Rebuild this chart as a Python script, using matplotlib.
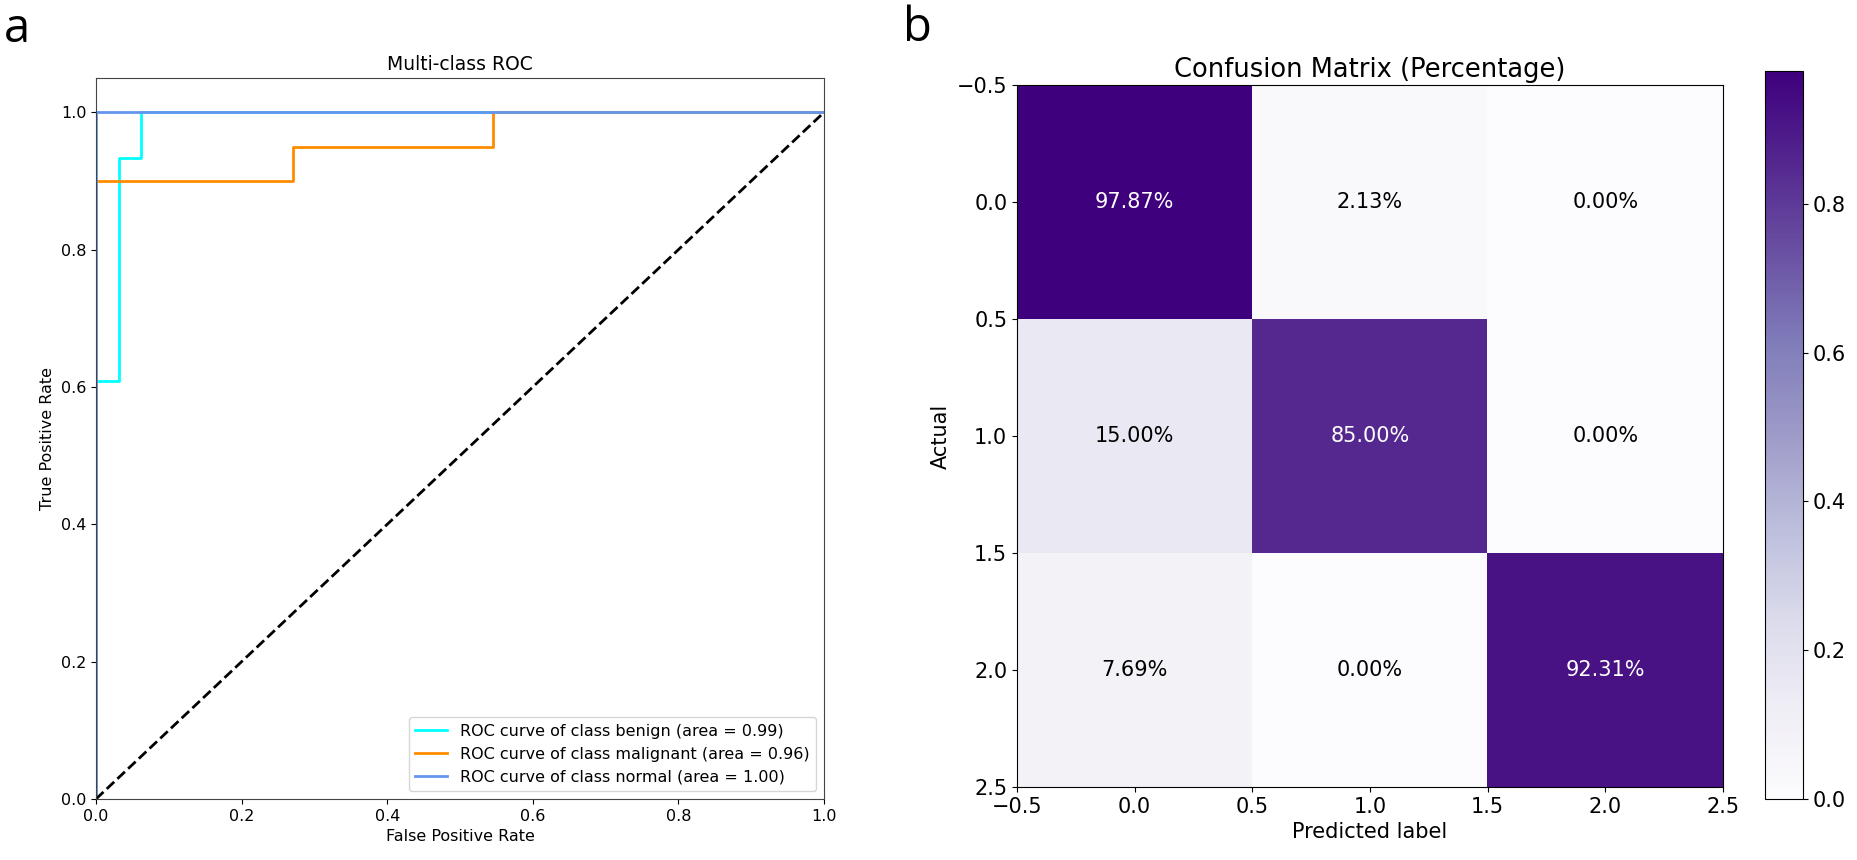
import numpy as np
import matplotlib
matplotlib.use('Agg')
import matplotlib.pyplot as plt

# ROC curve points
classes = ['benign', 'malignant', 'normal']
roc_auc = [0.99, 0.96, 1.00]
roc_colors = ['aqua', 'darkorange', 'cornflowerblue']
fpr_benign = [0.0, 0.0, 0.031, 0.031, 0.062, 0.062, 1.0]
tpr_benign = [0.0, 0.609, 0.609, 0.933, 0.933, 1.0, 1.0]
fpr_malignant = [0.0, 0.0, 0.27, 0.27, 0.545, 0.545, 1.0]
tpr_malignant = [0.0, 0.90, 0.90, 0.95, 0.95, 1.0, 1.0]
fpr_normal = [0.0, 0.0, 1.0]
tpr_normal = [0.0, 1.0, 1.0]

# confusion matrix, row-normalised
cm_row0 = [0.9787, 0.0213, 0.0]
cm_row1 = [0.15, 0.85, 0.0]
cm_row2 = [0.0769, 0.0, 0.9231]

fprs = [fpr_benign, fpr_malignant, fpr_normal]
tprs = [tpr_benign, tpr_malignant, tpr_normal]
cm = np.array([cm_row0, cm_row1, cm_row2])

W, H = 1858, 860
fig = plt.figure(figsize=(W / 100, H / 100), dpi=100)


def px_axes(x0, y0, x1, y1):
    # axes from pixel box (top-left origin)
    return fig.add_axes([x0 / W, 1 - y1 / H, (x1 - x0) / W, (y1 - y0) / H])


# --- panel a: ROC
ax1 = px_axes(96, 78, 824, 799)
for fpr, tpr, name, auc, color in zip(fprs, tprs, classes, roc_auc, roc_colors):
    ax1.plot(fpr, tpr, color=color, lw=2,
             label=f'ROC curve of class {name} (area = {auc:.2f})')
ax1.plot([0, 1], [0, 1], 'k--', lw=2)
ax1.set_xlim(0.0, 1.0)
ax1.set_ylim(0.0, 1.05)
ax1.set_xlabel('False Positive Rate', fontsize=11.5)
ax1.set_ylabel('True Positive Rate', fontsize=11.5)
ax1.set_title('Multi-class ROC', fontsize=13.5)
ax1.tick_params(labelsize=11.5)
for s in ax1.spines.values():
    s.set_color('#444444')
ax1.legend(loc='lower right', fontsize=11.5)

# --- panel b: confusion matrix
ax2 = px_axes(1017, 85, 1723, 787)
im = ax2.imshow(cm, cmap='Purples', aspect='auto')
thresh = cm.max() / 2.0
for i in range(cm.shape[0]):
    for j in range(cm.shape[1]):
        ax2.text(j, i, f'{cm[i, j] * 100:.2f}%', ha='center', va='center',
                 fontsize=15, color='white' if cm[i, j] > thresh else 'black')
ax2.set_title('Confusion Matrix (Percentage)', fontsize=18.5)
ax2.set_xlabel('Predicted label', fontsize=15)
ax2.set_ylabel('Actual', fontsize=15)
ax2.tick_params(labelsize=15)

cax = px_axes(1765, 71, 1803, 799)
cbar = fig.colorbar(im, cax=cax)
cbar.ax.tick_params(labelsize=15)

fig.text(4 / W, 1 - 42 / H, 'a', fontsize=34, family='Open Sans')
fig.text(903 / W, 1 - 41 / H, 'b', fontsize=34, family='Open Sans')

fig.savefig('out.png', dpi=100)
